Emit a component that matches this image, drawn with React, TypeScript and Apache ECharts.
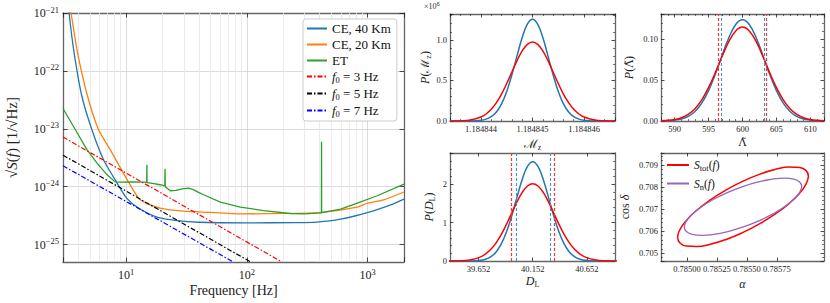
import React, { useEffect, useRef } from 'react';
import * as echarts from 'echarts';

// ---------------- Main panel: detector noise curves ----------------
const ce40Freq = [3.25, 3.37, 3.7, 4.29, 5.19, 6.48, 8.1, 10.1, 12.65, 18.0, 26.4, 39.6, 100, 250, 380, 597, 995, 1552, 2000];
const ce40Asd = [2.5e-21, 1.0e-21, 2.11e-22, 3.72e-23, 9.8e-24, 2.95e-24, 1.32e-24, 6.35e-25, 4.27e-25, 2.97e-25, 2.59e-25, 2.43e-25, 2.37e-25, 2.4e-25, 2.45e-25, 2.75e-25, 3.57e-25, 4.86e-25, 6.1e-25];

const ce20Freq = [3.3, 3.5, 3.95, 4.78, 5.89, 7.36, 10.45, 13.1, 19.1, 28, 39.8, 88, 229, 407, 820, 1000, 1358, 2000];
const ce20Asd = [2.1e-21, 1.0e-21, 2.11e-22, 3.72e-23, 9.8e-24, 4.4e-24, 1.21e-24, 5.94e-25, 4.27e-25, 3.83e-25, 3.67e-25, 3.39e-25, 3.46e-25, 3.57e-25, 4.44e-25, 5.2e-25, 5.94e-25, 8.1e-25];

const etFreq = [3.0, 3.78, 4.72, 5.72, 6.92, 8.1, 9, 11, 14.0, 14.8, 14.85, 14.9, 16.5, 19.1, 20.9, 21.0, 21.1, 23.2, 26, 29, 32.9, 36, 39.8, 43.8, 60.3, 88.2, 137, 229, 296, 407, 414, 415, 416, 597, 822, 1200, 2000];
const etAsd = [2.24e-23, 9.8e-24, 4.4e-24, 2.58e-24, 1.62e-24, 1.21e-24, 1.2e-24, 1.21e-24, 1.2e-24, 1.19e-24, 2.4e-24, 1.18e-24, 1.14e-24, 1.08e-24, 1.03e-24, 2.04e-24, 1.0e-24, 8.5e-25, 8.6e-25, 9.2e-25, 9.48e-25, 8.9e-25, 7.96e-25, 7.26e-25, 5.42e-25, 4.44e-25, 3.87e-25, 3.44e-25, 3.39e-25, 3.53e-25, 3.54e-25, 6.0e-24, 3.55e-25, 4.09e-25, 5.21e-25, 6.97e-25, 1.11e-24];

const f3Freq = [3, 196];
const f3Amp = [7.2e-24, 4.97e-26];
const f5Freq = [3, 108];
const f5Amp = [3.5e-24, 4.97e-26];
const f7Freq = [3, 77.6];
const f7Amp = [2.3e-24, 4.97e-26];

const xMinorGrid = [4, 5, 6, 7, 8, 9, 20, 30, 40, 50, 60, 70, 80, 90, 200, 300, 400, 500, 600, 700, 800, 900];
const yMinorGrid = [
  6e-26, 7e-26, 8e-26, 9e-26,
  2e-25, 3e-25, 4e-25, 5e-25, 6e-25, 7e-25, 8e-25, 9e-25,
  2e-24, 3e-24, 4e-24, 5e-24, 6e-24, 7e-24, 8e-24, 9e-24,
  2e-23, 3e-23, 4e-23, 5e-23, 6e-23, 7e-23, 8e-23, 9e-23,
  2e-22, 3e-22, 4e-22, 5e-22, 6e-22, 7e-22, 8e-22, 9e-22,
];

// ---------------- Chirp mass posterior ----------------
const mzX = [1.1848434, 1.1848436, 1.1848438, 1.184844, 1.1848441, 1.1848442, 1.1848443, 1.1848444, 1.1848445, 1.1848446, 1.1848447, 1.1848448, 1.1848449, 1.184845, 1.1848451, 1.1848452, 1.1848453, 1.1848454, 1.1848455, 1.1848456, 1.1848457, 1.1848458, 1.1848459, 1.184846, 1.1848462, 1.1848464, 1.1848466];
const mzBlue = [0, 0.0001, 0.001, 0.0089, 0.0229, 0.053, 0.111, 0.212, 0.365, 0.569, 0.804, 1.03, 1.194, 1.255, 1.194, 1.03, 0.804, 0.569, 0.365, 0.212, 0.111, 0.053, 0.0229, 0.0089, 0.001, 0.0001, 0];
const mzRed = [0.0005, 0.0028, 0.0132, 0.049, 0.0866, 0.144, 0.226, 0.332, 0.462, 0.604, 0.745, 0.865, 0.946, 0.975, 0.946, 0.865, 0.745, 0.604, 0.462, 0.332, 0.226, 0.144, 0.0866, 0.049, 0.0132, 0.0028, 0.0005];
const mzRedBounds = [1.18484459, 1.18484541];
const mzBlueBounds = [1.18484468, 1.18484532];
const mzXTicks = [1.184844, 1.184845, 1.184846];
const mzYTicks = [0, 0.5, 1.0];

// ---------------- Tidal deformability posterior ----------------
const lamX = [588, 589, 590, 591, 592, 593, 594, 595, 596, 597, 598, 599, 600, 601, 602, 603, 604, 605, 606, 607, 608, 609, 610, 611, 612];
const lamBlue = [0.00012, 0.00036, 0.001, 0.00249, 0.00566, 0.01166, 0.0218, 0.0371, 0.0572, 0.0802, 0.1021, 0.118, 0.1238, 0.118, 0.1021, 0.0802, 0.0572, 0.0371, 0.0218, 0.01166, 0.00566, 0.00249, 0.001, 0.00036, 0.00012];
const lamRed = [0.0003, 0.00077, 0.00183, 0.00401, 0.00811, 0.0151, 0.0259, 0.0408, 0.0592, 0.0791, 0.0973, 0.1101, 0.1148, 0.1101, 0.0973, 0.0791, 0.0592, 0.0408, 0.0259, 0.0151, 0.00811, 0.00401, 0.00183, 0.00077, 0.0003];
const lamRedBounds = [596.5, 603.5];
const lamBlueBounds = [596.8, 603.2];
const lamXTicks = [590, 595, 600, 605, 610];
const lamYTicks = [0, 0.05, 0.1];

// ---------------- Luminosity distance posterior ----------------
const dlX = [39.376, 39.473, 39.57, 39.667, 39.7155, 39.764, 39.8125, 39.861, 39.9095, 39.958, 40.0065, 40.055, 40.1035, 40.152, 40.2005, 40.249, 40.2975, 40.346, 40.3945, 40.443, 40.4915, 40.54, 40.5885, 40.637, 40.734, 40.831, 40.928];
const dlBlue = [0, 0.0002, 0.002, 0.018, 0.047, 0.109, 0.229, 0.437, 0.752, 1.172, 1.656, 2.122, 2.46, 2.585, 2.46, 2.122, 1.656, 1.172, 0.752, 0.437, 0.229, 0.109, 0.047, 0.018, 0.002, 0.0002, 0];
const dlRed = [0.001, 0.006, 0.027, 0.101, 0.179, 0.297, 0.466, 0.685, 0.953, 1.245, 1.536, 1.784, 1.951, 2.01, 1.951, 1.784, 1.536, 1.245, 0.953, 0.685, 0.466, 0.297, 0.179, 0.101, 0.027, 0.006, 0.001];
const dlRedBounds = [39.952, 40.352];
const dlBlueBounds = [39.998, 40.306];
const dlXTicks = [39.652, 40.152, 40.652];
const dlYTicks = [0, 1, 2];

// ---------------- Sky localisation ellipses ----------------
const totAlpha = [0.786014, 0.785995, 0.785941, 0.785854, 0.785741, 0.785609, 0.785468, 0.785327, 0.785195, 0.785082, 0.784995, 0.784941, 0.784922, 0.784941, 0.784995, 0.785082, 0.785195, 0.785327, 0.785468, 0.785609, 0.785741, 0.785854, 0.785941, 0.785995, 0.786014];
const totCosDelta = [0.708488, 0.708741, 0.708883, 0.708903, 0.708801, 0.708584, 0.708265, 0.707868, 0.707418, 0.706948, 0.706488, 0.70607, 0.705722, 0.705469, 0.705327, 0.705307, 0.705409, 0.705626, 0.705945, 0.706342, 0.706792, 0.707262, 0.707722, 0.70814, 0.708488];
const nAlpha = [0.785958, 0.785941, 0.785892, 0.785814, 0.785713, 0.785595, 0.785468, 0.785341, 0.785223, 0.785122, 0.785044, 0.784995, 0.784978, 0.784995, 0.785044, 0.785122, 0.785223, 0.785341, 0.785468, 0.785595, 0.785713, 0.785814, 0.785892, 0.785941, 0.785958];
const nCosDelta = [0.708025, 0.708231, 0.708361, 0.708405, 0.708361, 0.708231, 0.708025, 0.707757, 0.707444, 0.707108, 0.706772, 0.706459, 0.706191, 0.705985, 0.705855, 0.705811, 0.705855, 0.705985, 0.706191, 0.706459, 0.706772, 0.707108, 0.707444, 0.707757, 0.708025];
const ellXTicks = [0.785, 0.78525, 0.7855, 0.78575];
const ellYTicks = [0.705, 0.706, 0.707, 0.708, 0.709];

const mainNames = ['CE, 40 Km', 'CE, 20 Km', 'ET', 'f0 = 3 Hz', 'f0 = 5 Hz', 'f0 = 7 Hz'];
const ellNames = ['S_tot(f)', 'S_n(f)'];

// ---------------- styling ----------------
const FONT = "'Liberation Serif', 'DejaVu Serif', serif";
const FRAME = '#666';
const TXT = '#222';
const C_BLUE = '#1f77b4';
const C_ORANGE = '#ff7f0e';
const C_GREEN = '#2ca02c';
const C_RED = '#ff0000';
const C_PURPLE = '#9467bd';

const RICH = {
  i: { fontStyle: 'italic' },
  L: { fontFamily: "'DejaVu Serif', serif", fontSize: 11 },
  sup: { fontSize: 8.5, padding: [0, 0, 7, 0] },
  sub: { fontSize: 8, padding: [6, 0, 0, 0] },
};

const zip = (a: number[], b: number[]) => a.map((v, i) => [v, b[i]]);

const pow10Label = (v: number) => {
  const l = Math.log10(v);
  const e = Math.round(l);
  if (Math.abs(l - e) > 1e-6) return '';
  return '10{sup|' + (e < 0 ? '\u2212' + -e : String(e)) + '}';
};

function mkAxis(o: any) {
  const isY = o.dim === 'y';
  const ax: any = {
    type: o.type || 'value',
    gridIndex: o.grid,
    position: o.position,
    min: o.min,
    max: o.max,
    splitNumber: o.splitNumber,
    axisLine: { show: true, onZero: false, lineStyle: { color: FRAME, width: 1.3 } },
    axisTick: {
      show: true,
      inside: true,
      length: o.tickLen || 3.5,
      lineStyle: { color: '#222', width: 0.8 },
    },
    minorTick: o.minor
      ? { show: true, splitNumber: o.minor, length: 2, lineStyle: { color: '#222', width: 0.6 } }
      : { show: false },
    axisLabel: { show: false },
    splitLine: o.split ? { show: true, lineStyle: { color: '#d2d2d2', width: 0.8 } } : { show: false },
    nameMoveOverlap: false,
  };
  if (o.type === 'log') ax.logBase = 10;
  if (o.tickValues) ax.axisTick.customValues = o.tickValues;
  if (o.labels) {
    ax.axisLabel = {
      show: true,
      margin: o.labelMargin ?? 3,
      fontFamily: FONT,
      fontSize: o.labelSize || 8.5,
      color: TXT,
      formatter: o.fmt,
      rich: RICH,
    };
    if (o.labelValues) ax.axisLabel.customValues = o.labelValues;
  }
  if (o.name) {
    ax.name = o.name;
    ax.nameLocation = 'middle';
    ax.nameGap = o.nameGap;
    ax.nameRotate = isY ? 90 : 0;
    ax.nameTextStyle = { fontFamily: FONT, fontSize: o.nameSize || 12, color: TXT, rich: RICH };
  }
  return ax;
}

function markBounds(vals: number[], color: string, width: number) {
  return {
    silent: true,
    symbol: ['none', 'none'],
    label: { show: false },
    emphasis: { disabled: true },
    lineStyle: { color, width, type: [3, 2] },
    data: vals.map((v) => ({ xAxis: v })),
  };
}

function buildOption(): any {
  const grids = [
    { left: 63, top: 13, width: 341, height: 249 },
    { left: 450, top: 14, width: 165, height: 107 },
    { left: 661, top: 14, width: 163, height: 107 },
    { left: 450, top: 153, width: 165, height: 108 },
    { left: 661, top: 153, width: 163, height: 108 },
  ].map((g) => ({ ...g, containLabel: false, outerBoundsMode: 'none' }));

  const xAxis = [
    mkAxis({ dim: 'x', grid: 0, position: 'bottom', type: 'log', min: 3, max: 2000, labels: true, fmt: pow10Label, labelSize: 12, labelMargin: 5, split: true, name: 'Frequency [Hz]', nameGap: 21, nameSize: 14, tickLen: 4.5 }),
    mkAxis({ dim: 'x', grid: 0, position: 'top', type: 'log', min: 3, max: 2000, tickLen: 4.5 }),
    mkAxis({ dim: 'x', grid: 1, position: 'bottom', min: 1.1848434, max: 1.1848466, splitNumber: 3, minor: 5, labels: true, labelValues: mzXTicks, fmt: (v: number) => v.toFixed(6), name: '\u2133{sub|z}', nameGap: 16 }),
    mkAxis({ dim: 'x', grid: 1, position: 'top', min: 1.1848434, max: 1.1848466, splitNumber: 3, minor: 5 }),
    mkAxis({ dim: 'x', grid: 2, position: 'bottom', min: 588, max: 612, splitNumber: 5, minor: 5, labels: true, labelValues: lamXTicks, fmt: (v: number) => String(v), name: '{L|\u039B\u0303}', nameGap: 16 }),
    mkAxis({ dim: 'x', grid: 2, position: 'top', min: 588, max: 612, splitNumber: 5, minor: 5 }),
    mkAxis({ dim: 'x', grid: 3, position: 'bottom', min: 39.389, max: 40.911, tickValues: dlXTicks, labels: true, labelValues: dlXTicks, fmt: (v: number) => v.toFixed(3), name: '{i|D}{sub|L}', nameGap: 13 }),
    mkAxis({ dim: 'x', grid: 3, position: 'top', min: 39.389, max: 40.911, tickValues: dlXTicks }),
    mkAxis({ dim: 'x', grid: 4, position: 'bottom', min: 0.784783, max: 0.786144, tickValues: ellXTicks, labels: true, labelValues: ellXTicks, fmt: (v: number) => v.toFixed(5), name: '{i|\u03B1}', nameGap: 17 }),
    mkAxis({ dim: 'x', grid: 4, position: 'top', min: 0.784783, max: 0.786144, tickValues: ellXTicks }),
  ];

  const yAxis = [
    mkAxis({ dim: 'y', grid: 0, position: 'left', type: 'log', min: 5e-26, max: 1e-21, labels: true, fmt: pow10Label, labelSize: 12, labelMargin: 4, split: true, name: '\u221A{i|S}({i|f}) [1/\u221AHz]', nameGap: 44, nameSize: 15, tickLen: 4.5 }),
    mkAxis({ dim: 'y', grid: 0, position: 'right', type: 'log', min: 5e-26, max: 1e-21, tickLen: 4.5 }),
    mkAxis({ dim: 'y', grid: 1, position: 'left', min: 0, max: 1.32, splitNumber: 3, minor: 5, labels: true, labelValues: mzYTicks, fmt: (v: number) => v.toFixed(1), name: '{i|P}(\u2133{sub|z})', nameGap: 18 }),
    mkAxis({ dim: 'y', grid: 1, position: 'right', min: 0, max: 1.32, splitNumber: 3, minor: 5 }),
    mkAxis({ dim: 'y', grid: 2, position: 'left', min: 0, max: 0.1308, splitNumber: 3, minor: 5, labels: true, labelValues: lamYTicks, fmt: (v: number) => v.toFixed(2), name: '{i|P}({L|\u039B\u0303})', nameGap: 26 }),
    mkAxis({ dim: 'y', grid: 2, position: 'right', min: 0, max: 0.1308, splitNumber: 3, minor: 5 }),
    mkAxis({ dim: 'y', grid: 3, position: 'left', min: 0, max: 2.81, splitNumber: 3, minor: 5, labels: true, labelValues: dlYTicks, fmt: (v: number) => String(v), name: '{i|P}({i|D}{sub|L})', nameGap: 14 }),
    mkAxis({ dim: 'y', grid: 3, position: 'right', min: 0, max: 2.81, splitNumber: 3, minor: 5 }),
    mkAxis({ dim: 'y', grid: 4, position: 'left', min: 0.70465, max: 0.70954, splitNumber: 5, minor: 5, labels: true, labelValues: ellYTicks, fmt: (v: number) => v.toFixed(3), name: 'cos {i|\u03B4}', nameGap: 30 }),
    mkAxis({ dim: 'y', grid: 4, position: 'right', min: 0.70465, max: 0.70954, splitNumber: 5, minor: 5 }),
  ];

  const mainLine = (name: string, fx: number[], fy: number[], color: string, extra: any = {}) => ({
    name,
    type: 'line',
    xAxisIndex: 0,
    yAxisIndex: 0,
    data: zip(fx, fy),
    symbol: 'none',
    showSymbol: false,
    clip: true,
    lineStyle: { color, width: 1.3 },
    itemStyle: { color },
    emphasis: { disabled: true },
    ...extra,
  });

  const dashDot = [5, 2, 1.5, 2];

  const minorGridMark = {
    silent: true,
    symbol: ['none', 'none'],
    z: 1,
    label: { show: false },
    emphasis: { disabled: true },
    lineStyle: { color: '#e6e6e6', width: 0.8, type: 'solid' },
    data: [...xMinorGrid.map((v) => ({ xAxis: v })), ...yMinorGrid.map((v) => ({ yAxis: v }))],
  };

  const smallLine = (name: string, xi: number, xs: number[], ys: number[], color: string, mark: any) => ({
    name,
    type: 'line',
    xAxisIndex: xi,
    yAxisIndex: xi,
    data: zip(xs, ys),
    symbol: 'none',
    showSymbol: false,
    smooth: 0.4,
    clip: true,
    lineStyle: { color, width: 1.5 },
    itemStyle: { color },
    emphasis: { disabled: true },
    markLine: mark,
  });

  const series: any[] = [
    mainLine('CE, 40 Km', ce40Freq, ce40Asd, C_BLUE, { smooth: 0.25, markLine: minorGridMark }),
    mainLine('CE, 20 Km', ce20Freq, ce20Asd, C_ORANGE, { smooth: 0.25 }),
    mainLine('ET', etFreq, etAsd, C_GREEN),
    mainLine('f0 = 3 Hz', f3Freq, f3Amp, C_RED, { lineStyle: { color: C_RED, width: 1.2, type: dashDot } }),
    mainLine('f0 = 5 Hz', f5Freq, f5Amp, '#000000', { lineStyle: { color: '#000000', width: 1.2, type: dashDot } }),
    mainLine('f0 = 7 Hz', f7Freq, f7Amp, '#0000ff', { lineStyle: { color: '#0000ff', width: 1.2, type: dashDot } }),

    smallLine('mz-n', 2, mzX, mzBlue, C_BLUE, markBounds(mzBlueBounds, '#4a90c8', 1.1)),
    smallLine('mz-tot', 2, mzX, mzRed, C_RED, markBounds(mzRedBounds, '#ff3030', 1.2)),
    smallLine('lam-n', 4, lamX, lamBlue, C_BLUE, markBounds(lamBlueBounds, '#4a90c8', 1.1)),
    smallLine('lam-tot', 4, lamX, lamRed, C_RED, markBounds(lamRedBounds, '#ff3030', 1.2)),
    smallLine('dl-n', 6, dlX, dlBlue, C_BLUE, markBounds(dlBlueBounds, '#4a90c8', 1.1)),
    smallLine('dl-tot', 6, dlX, dlRed, C_RED, markBounds(dlRedBounds, '#ff3030', 1.2)),

    {
      name: 'S_tot(f)', type: 'line', xAxisIndex: 8, yAxisIndex: 8,
      data: zip(totAlpha, totCosDelta), symbol: 'none', showSymbol: false, smooth: 0.5,
      lineStyle: { color: C_RED, width: 1.5 }, itemStyle: { color: C_RED }, emphasis: { disabled: true },
    },
    {
      name: 'S_n(f)', type: 'line', xAxisIndex: 8, yAxisIndex: 8,
      data: zip(nAlpha, nCosDelta), symbol: 'none', showSymbol: false, smooth: 0.5,
      lineStyle: { color: C_PURPLE, width: 1.3 }, itemStyle: { color: C_PURPLE }, emphasis: { disabled: true },
    },
  ];

  const legendRich = {
    i: { fontStyle: 'italic' },
    sub: { fontSize: 8.5, padding: [6, 0, 0, 0] },
  };

  return {
    animation: false,
    backgroundColor: '#ffffff',
    grid: grids,
    xAxis,
    yAxis,
    series,
    legend: [
      {
        id: 'mainLegend',
        orient: 'vertical',
        left: 303,
        top: 19,
        data: mainNames,
        selectedMode: false,
        itemWidth: 20,
        itemHeight: 10,
        itemGap: 3,
        padding: [3, 6, 3, 3],
        backgroundColor: 'rgba(255,255,255,0.95)',
        borderColor: '#cccccc',
        borderWidth: 1,
        borderRadius: 3,
        itemStyle: { opacity: 0 },
        textStyle: { fontFamily: FONT, fontSize: 13, color: '#111', lineHeight: 12, rich: legendRich },
        formatter: (name: string) => (name.startsWith('f0') ? '{i|f}{sub|0} = ' + name.slice(5) : name),
      },
      {
        id: 'ellLegend',
        orient: 'vertical',
        left: 664,
        top: 157,
        data: ellNames,
        selectedMode: false,
        itemWidth: 22,
        itemHeight: 10,
        itemGap: 5,
        padding: [2, 2, 2, 2],
        itemStyle: { opacity: 0 },
        textStyle: { fontFamily: FONT, fontSize: 11.5, color: '#111', lineHeight: 11, rich: legendRich },
        formatter: (name: string) => (name === 'S_tot(f)' ? '{i|S}{sub|tot}({i|f})' : '{i|S}{sub|n}({i|f})'),
      },
    ],
    graphic: [
      {
        type: 'text',
        left: 424,
        top: 1,
        style: {
          text: '\u00D710{sup|6}',
          fontFamily: FONT,
          fontSize: 8,
          fill: '#333',
          rich: { sup: { fontSize: 6, padding: [0, 0, 5, 0] } },
        },
      },
    ],
  };
}

export default function App() {
  const ref = useRef<HTMLDivElement>(null);
  useEffect(() => {
    if (!ref.current) return;
    const chart = echarts.init(ref.current, undefined, { renderer: 'svg' });
    chart.setOption(buildOption());
    return () => chart.dispose();
  }, []);
  return (
    <div
      ref={ref}
      style={{ position: 'fixed', left: 0, top: 0, width: 830, height: 303, background: '#fff' }}
    />
  );
}
